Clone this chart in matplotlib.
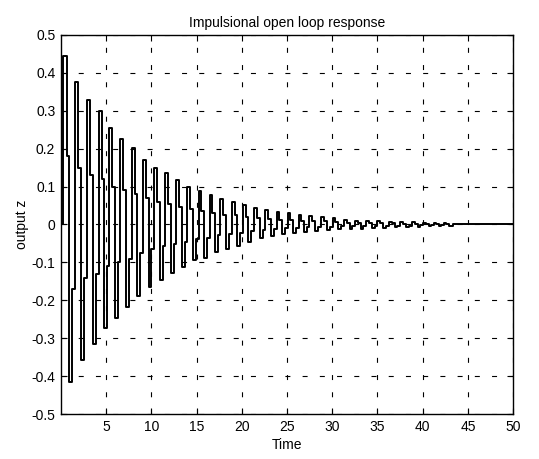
import matplotlib
matplotlib.use("Agg")
import matplotlib.pyplot as plt
import numpy as np

plt.rcParams['font.family'] = ['Liberation Sans', 'DejaVu Sans']
plt.rcParams['axes.unicode_minus'] = False

# positive peaks of the response (time, value)
peak_t = [0.48, 1.70, 3.02, 4.34, 5.41, 6.68, 8.05, 9.26, 10.43, 11.72,
          12.93, 14.14, 15.38, 16.60, 17.81, 19.06, 20.28, 21.55, 22.77, 24.02,
          25.24, 26.45, 27.62, 28.90, 30.19, 31.47, 32.65, 33.85, 35.14, 36.42,
          37.71, 39.00, 40.24, 41.34, 42.45]
peak_v = [0.445, 0.377, 0.328, 0.300, 0.254, 0.225, 0.202, 0.170, 0.149, 0.136,
          0.116, 0.100, 0.087, 0.078, 0.066, 0.060, 0.051, 0.043, 0.038, 0.032,
          0.030, 0.025, 0.022, 0.020, 0.017, 0.012, 0.010, 0.009, 0.008, 0.007,
          0.006, 0.006, 0.005, 0.004, 0.003]

# negative peaks (troughs)
trough_t = [1.07, 2.47, 3.76, 4.97, 6.21, 7.35, 8.60, 9.88, 11.09, 12.30,
            13.56, 14.77, 15.98, 17.15, 18.44, 19.65, 20.86, 22.18, 23.39, 24.60,
            25.81, 27.02, 28.24, 29.56, 30.83, 32.09, 33.31, 34.52, 35.79, 37.05,
            38.32, 39.58, 40.79, 41.89, 43.00]
trough_v = [-0.415, -0.357, -0.315, -0.274, -0.247, -0.217, -0.190, -0.166, -0.146, -0.129,
            -0.113, -0.094, -0.088, -0.072, -0.065, -0.058, -0.045, -0.036, -0.030, -0.025,
            -0.022, -0.020, -0.017, -0.015, -0.013, -0.012, -0.011, -0.010, -0.009, -0.008,
            -0.007, -0.006, -0.005, -0.004, -0.003]

# shoulder levels on the way down (peak -> trough)
down_t = [0.78, 2.08, 3.39, 4.65, 5.81, 7.00, 8.32, 9.57, 10.76, 12.00,
          13.25, 14.45, 15.68, 16.88, 18.12, 19.35, 20.57, 21.86, 23.08, 24.31,
          25.52, 26.73, 27.93, 29.23, 30.51, 31.78, 32.98, 34.18, 35.46, 36.73,
          38.01, 39.29, 40.51, 41.61, 42.72]
down_v = [0.18, 0.15, 0.13, 0.12, 0.10, 0.09, 0.08, 0.07, 0.06, 0.055,
          0.045, 0.04, 0.035, 0.03, 0.026, 0.024, 0.02, 0.017, 0.015, 0.013,
          0.012, 0.010, 0.009, 0.008, 0.007, 0.005, 0.004, 0.004, 0.003, 0.003,
          0.002, 0.002, 0.002, 0.002, 0.001]

# shoulder levels on the way up (trough -> next peak)
up_t = [1.38, 2.74, 4.05, 5.19, 6.44, 7.70, 8.93, 10.15, 11.40, 12.61,
        13.85, 15.07, 16.29, 17.48, 18.75, 19.96, 21.20, 22.47, 23.70, 24.92,
        26.13, 27.32, 28.57, 29.87, 31.15, 32.37, 33.58, 34.83, 36.10, 37.37,
        38.66, 39.91, 41.06, 42.17]
up_v = [-0.17, -0.14, -0.13, -0.11, -0.10, -0.09, -0.076, -0.066, -0.058, -0.052,
        -0.045, -0.038, -0.035, -0.029, -0.026, -0.023, -0.018, -0.014, -0.012, -0.010,
        -0.009, -0.008, -0.007, -0.006, -0.005, -0.005, -0.004, -0.004, -0.004, -0.003,
        -0.003, -0.002, -0.002, -0.002]

# start and flat tail after the oscillation dies out
tail_t = [0.0, 43.6, 50.0]
tail_v = [0.0, 0.0, 0.0]

xticks = [5, 10, 15, 20, 25, 30, 35, 40, 45, 50]
yticks = [0.5, 0.4, 0.3, 0.2, 0.1, 0, -0.1, -0.2, -0.3, -0.4, -0.5]
ytick_labels = ['0.5', '0.4', '0.3', '0.2', '0.1', '0', '-0.1', '-0.2', '-0.3', '-0.4', '-0.5']

t = np.array(peak_t + trough_t + down_t + up_t + tail_t)
v = np.array(peak_v + trough_v + down_v + up_v + tail_v)
order = np.argsort(t)
t, v = t[order], v[order]

fig = plt.figure(figsize=(5.39, 4.59), dpi=100)
ax = fig.add_axes([0.113, 0.098, 0.839, 0.826])

ax.step(t, v, where='mid', color='black', linewidth=1.4)

ax.set_xlim(0, 50)
ax.set_ylim(-0.5, 0.5)
ax.set_xticks(xticks)
ax.set_yticks(yticks)
ax.set_yticklabels(ytick_labels)
ax.tick_params(direction='in', length=4, width=0.8, top=True, right=True,
               labelsize=10, pad=4)
for s in ax.spines.values():
    s.set_linewidth(1.0)

ax.grid(True, color='black', linewidth=0.8, linestyle=(0, (4.5, 11)))

ax.set_title('Impulsional open loop response', fontsize=10, pad=6)
ax.set_xlabel('Time', fontsize=10, labelpad=3)
ax.set_ylabel('output z', fontsize=10, labelpad=2)

fig.savefig('out.png', dpi=100)
